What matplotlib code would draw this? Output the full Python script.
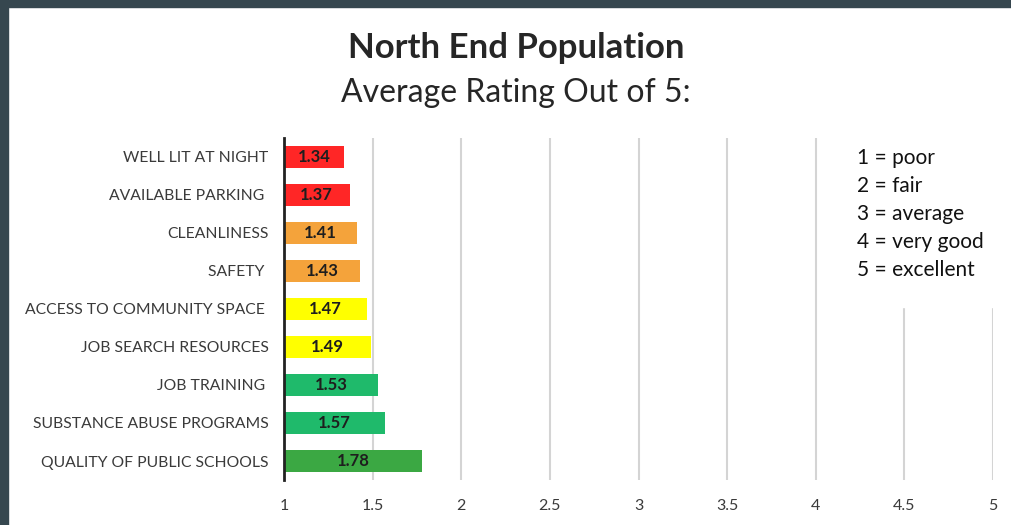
#!/usr/bin/env python3
"""North End Population - average rating bar chart."""

import matplotlib
matplotlib.use("Agg")
import matplotlib.pyplot as plt
from matplotlib.patches import Rectangle

categories = [
    "WELL LIT AT NIGHT",
    "AVAILABLE PARKING ",
    "CLEANLINESS",
    "SAFETY ",
    "ACCESS TO COMMUNITY SPACE ",
    "JOB SEARCH RESOURCES",
    "JOB TRAINING ",
    "SUBSTANCE ABUSE PROGRAMS",
    "QUALITY OF PUBLIC SCHOOLS",
]
ratings = [1.34, 1.37, 1.41, 1.43, 1.47, 1.49, 1.53, 1.57, 1.78]
bar_colors = ["#ff2626", "#ff2626", "#f4a33b", "#f4a33b", "#ffff00",
              "#ffff00", "#1fba6b", "#1fba6b", "#3ba843"]
xticks = [1, 1.5, 2, 2.5, 3, 3.5, 4, 4.5, 5]
xtick_labels = ["1", "1.5", "2", "2.5", "3", "3.5", "4", "4.5", "5"]
scale_notes = ["1 = poor", "2 = fair", "3 = average", "4 = very good", "5 = excellent"]

plt.rcParams["font.family"] = ["Lato", "DejaVu Sans"]
text_color = "#3a3a3a"

W, H = 1012, 525
fig = plt.figure(figsize=(W / 100, H / 100), dpi=100)
fig.patch.set_facecolor("white")

# dark frame on top and left edges
frame = "#36474f"
fig.patches.append(Rectangle((0, 1 - 7 / H), 1, 7 / H, transform=fig.transFigure,
                             color=frame, zorder=0))
fig.patches.append(Rectangle((0, 0), 8 / W, 1, transform=fig.transFigure,
                             color=frame, zorder=0))

ax = fig.add_axes([284 / W, 1 - 480 / H, (993 - 284) / W, (480 - 138) / H])

y = list(range(len(categories)))
ax.barh(y, ratings, height=0.56, color=bar_colors, zorder=3)
for yi, v in zip(y, ratings):
    ax.text((1 + v) / 2, yi, f"{v:.2f}", ha="center", va="center",
            fontsize=12, fontweight="bold", color="#1e1e1e", zorder=4)

ax.set_xlim(1, 5)
ax.set_ylim(len(categories) - 0.5, -0.5)
ax.set_yticks(y)
ax.set_yticklabels(categories, fontsize=11.3, color=text_color)
ax.set_xticks(xticks)
ax.set_xticklabels(xtick_labels, fontsize=11.5, color=text_color)
ax.tick_params(axis="both", length=0)
ax.tick_params(axis="y", pad=11)
ax.tick_params(axis="x", pad=14)

ax.grid(axis="x", color="#d4d4d4", linewidth=1.5)
ax.set_axisbelow(True)
for side in ["top", "right", "bottom"]:
    ax.spines[side].set_visible(False)
ax.spines["left"].set_color("#222222")
ax.spines["left"].set_linewidth(2)
ax.spines["left"].set_zorder(5)

# scale explanation box covering the top of the right gridlines
ax.add_patch(Rectangle((4.12, -0.55), 0.95, 4.5, color="white", zorder=2,
                       clip_on=False))
for i, note in enumerate(scale_notes):
    fig.text(857 / W, 1 - (158 + i * 28) / H, note, fontsize=15,
             color="#111111", va="center", ha="left")

fig.text(516 / W, 1 - 48 / H, "North End Population", fontsize=25,
         fontweight="bold", color="#262626", ha="center", va="center")
fig.text(516 / W, 1 - 93 / H, "Average Rating Out of 5:", fontsize=23,
         color="#262626", ha="center", va="center")

fig.savefig("out.png", dpi=100)
